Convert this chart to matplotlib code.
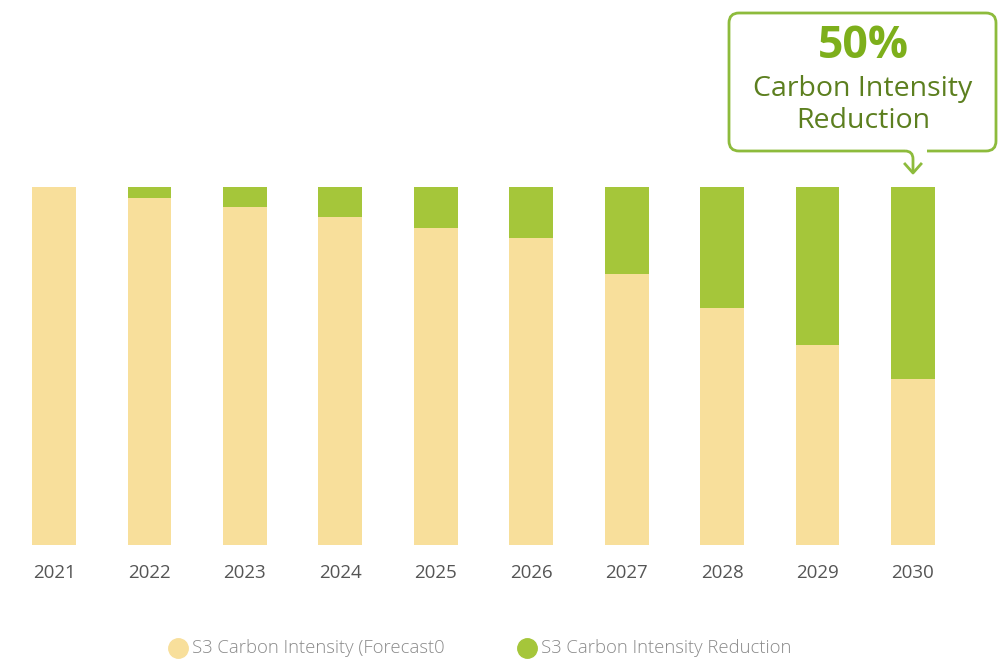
import numpy as np
import matplotlib.pyplot as plt
from matplotlib.path import Path
from matplotlib.patches import PathPatch
from matplotlib.lines import Line2D

plt.rcParams['font.family'] = ['Open Sans', 'DejaVu Sans']

years = ['2021', '2022', '2023', '2024', '2025', '2026', '2027', '2028', '2029', '2030']
reduction = [0, 3.0, 5.6, 8.4, 11.5, 14.2, 24.3, 33.8, 44.1, 53.6]
forecast = [100 - r for r in reduction]
legend_labels = ['S3 Carbon Intensity (Forecast0', 'S3 Carbon Intensity Reduction']
callout_pct = '50%'
callout_text = 'Carbon Intensity\nReduction'

beige = '#F8DF9B'
green = '#A5C63A'

W, H = 998, 662
fig = plt.figure(figsize=(W / 100, H / 100), dpi=100)

def fx(px):
    return px / W

def fy(py):
    return 1 - py / H

# axes placed so bar centres land where they are in the picture
ax = fig.add_axes([fx(6.3), fy(545), fx(954.4), 358 / H])
x = np.arange(len(years))
ax.bar(x, forecast, width=0.46, color=beige)
ax.bar(x, reduction, width=0.46, bottom=forecast, color=green)
ax.set_xlim(-0.5, 9.5)
ax.set_ylim(0, 100)
ax.set_xticks(x)
ax.set_xticklabels(years, fontsize=13.5, color='#555555')
ax.tick_params(axis='x', length=0, pad=14)
ax.set_yticks([])
for s in ax.spines.values():
    s.set_visible(False)

# legend
lx = [178, 527]
for px, lab, c in zip(lx, legend_labels, [beige, green]):
    fig.add_artist(Line2D([fx(px)], [fy(648)], marker='o', markersize=14,
                          color=c, linestyle='none', transform=fig.transFigure))
    fig.text(fx(px + 14), fy(648), lab, fontsize=13.3, color='#8a8a8a',
             va='center', ha='left', fontweight='light')

# callout box with pointer
l, r, t, b, rad = 729, 996, 13, 151, 10
verts = [
    (905, b), (l + rad, b), (l, b), (l, b - rad), (l, t + rad), (l, t), (l + rad, t),
    (r - rad, t), (r, t), (r, t + rad), (r, b - rad), (r, b), (r - rad, b), (927, b),
]
codes = [Path.MOVETO, Path.LINETO, Path.CURVE3, Path.CURVE3, Path.LINETO,
         Path.CURVE3, Path.CURVE3, Path.LINETO, Path.CURVE3, Path.CURVE3,
         Path.LINETO, Path.CURVE3, Path.CURVE3, Path.LINETO]
pv = [(fx(a), fy(c)) for a, c in verts]
fig.add_artist(PathPatch(Path(pv, codes), fill=False, edgecolor='#8DBB3C',
                         linewidth=2, transform=fig.transFigure))
# curved stem and arrow head
stem = [(905, b), (913, b), (913, b + 8), (913, 172)]
scodes = [Path.MOVETO, Path.CURVE3, Path.CURVE3, Path.LINETO]
fig.add_artist(PathPatch(Path([(fx(a), fy(c)) for a, c in stem], scodes), fill=False,
                         edgecolor='#8DBB3C', linewidth=2, transform=fig.transFigure))
fig.add_artist(Line2D([fx(905), fx(913), fx(921)], [fy(164), fy(173), fy(164)],
                      color='#8DBB3C', linewidth=2, transform=fig.transFigure))

fig.text(fx(863), fy(47), callout_pct, fontsize=32, fontweight='bold',
         color='#7DAF1B', ha='center', va='center')
fig.text(fx(863), fy(105), callout_text, fontsize=20.5, color='#5C7F1F',
         ha='center', va='center', linespacing=1.2)

fig.savefig('out.png', dpi=100)
